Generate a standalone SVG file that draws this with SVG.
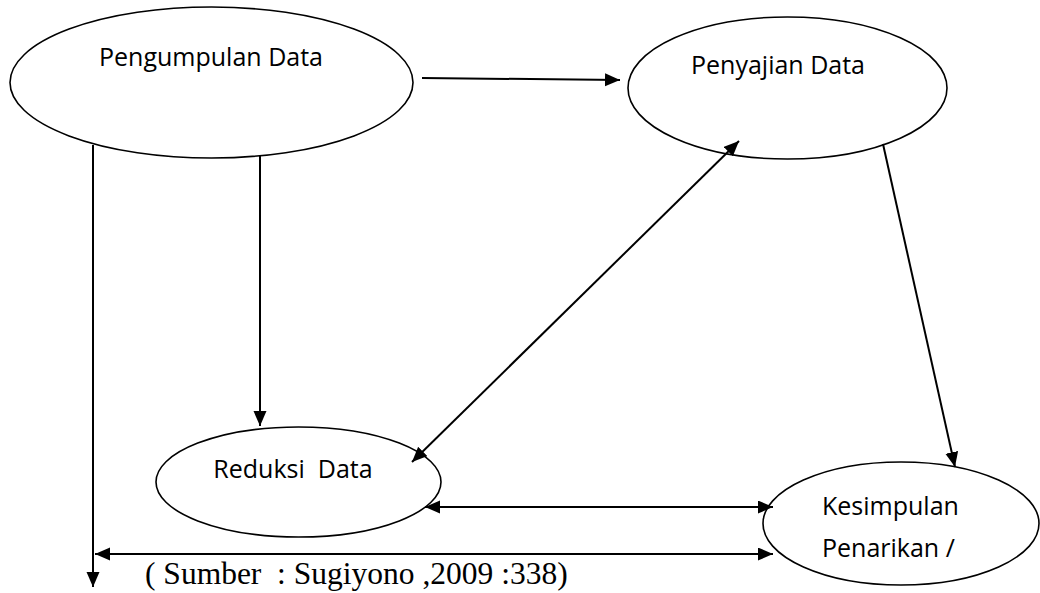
<svg xmlns="http://www.w3.org/2000/svg" width="1040" height="593" viewBox="0 0 1040 593">
<style>
.node ellipse{fill:#fff;stroke:#000;stroke-width:1.6}
.lbl{font-family:"Open Sans","Noto Sans","Liberation Sans",sans-serif;font-size:25px;fill:#000}
.conn line{stroke:#000;stroke-width:2}
.src{font-family:"Liberation Serif","Times New Roman",serif;font-size:31.5px;fill:#000}
</style>
<defs>
<marker id="ah" markerUnits="userSpaceOnUse" markerWidth="16" markerHeight="14" refX="15" refY="6.5" orient="auto-start-reverse">
<path d="M0,0 L15,6.5 L0,13 z" fill="#000"/>
</marker>
</defs>
<rect width="1040" height="593" fill="#fff"/>
<g id="pengumpulan" class="node">
<ellipse cx="211.5" cy="82.5" rx="201.5" ry="75.5"/>
<text class="lbl" x="211" y="66" text-anchor="middle">Pengumpulan Data</text>
</g>
<g id="penyajian" class="node">
<ellipse cx="787.5" cy="88" rx="159.5" ry="71"/>
<text class="lbl" x="778" y="74" text-anchor="middle">Penyajian Data</text>
</g>
<g id="reduksi" class="node">
<ellipse cx="298.5" cy="482" rx="142.5" ry="55"/>
<text class="lbl" x="293" y="478" text-anchor="middle" xml:space="preserve">Reduksi  Data</text>
</g>
<g id="kesimpulan" class="node">
<ellipse cx="901" cy="523.5" rx="138" ry="61.5"/>
<text class="lbl" x="822" y="515">Kesimpulan</text>
<text class="lbl" x="822" y="557">Penarikan /</text>
</g>
<g id="connectors" class="conn">
<line x1="422" y1="78" x2="620" y2="80" marker-end="url(#ah)"/>
<line x1="739" y1="141" x2="412" y2="462" marker-start="url(#ah)" marker-end="url(#ah)"/>
<line x1="883" y1="144" x2="955" y2="467" marker-end="url(#ah)"/>
<line x1="425" y1="507" x2="773" y2="507" marker-start="url(#ah)" marker-end="url(#ah)"/>
<line x1="95" y1="554" x2="773" y2="554" marker-start="url(#ah)" marker-end="url(#ah)"/>
<line x1="93" y1="145" x2="93" y2="587" marker-end="url(#ah)"/>
<line x1="260" y1="155" x2="260" y2="426" marker-end="url(#ah)"/>
</g>
<text id="sumber" class="src" x="145" y="584" xml:space="preserve">( Sumber  : Sugiyono ,2009 :338)</text>
</svg>
